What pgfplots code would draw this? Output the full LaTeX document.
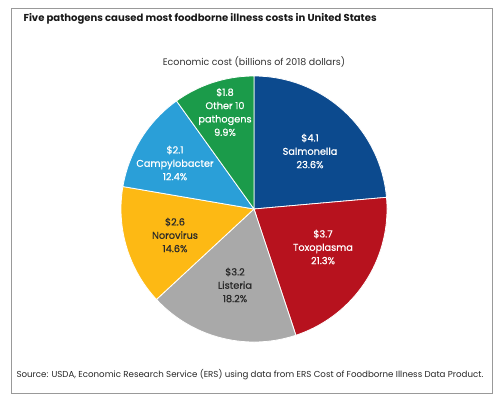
\documentclass[border=0pt]{standalone}
\usepackage{pgfplots}
\pgfplotsset{compat=1.18}
\usepgfplotslibrary{polar}
\usepackage{fontspec}
\setmainfont{Poppins}
\newfontfamily\labfont{Poppins}[FakeBold=0.6]
\definecolor{cSal}{HTML}{0C4A8E}
\definecolor{cTox}{HTML}{B7121E}
\definecolor{cLis}{HTML}{A9A9A9}
\definecolor{cNor}{HTML}{FDB914}
\definecolor{cCam}{HTML}{2A9FD8}
\definecolor{cOth}{HTML}{1B9B4A}
\definecolor{dark}{HTML}{2A2A2A}
\begin{document}
\begin{tikzpicture}[x=1bp,y=1bp]
\useasboundingbox (0,0) rectangle (500,399);
\draw[color=black!40, line width=0.9bp] (11,6) rectangle (492,391);
\node[anchor=west, font=\bfseries\fontsize{10.1}{12}\selectfont, text=black!90] at (20,380) {Five pathogens caused most foodborne illness costs in United States};
\node[font=\fontsize{9.5}{12}\selectfont, text=black!80] at (254,337) {Economic cost (billions of 2018 dollars)};
\node[anchor=west, font=\fontsize{8.7}{10}\selectfont, text=black!85] at (13,24) {Source: USDA, Economic Research Service (ERS) using data from ERS Cost of Foodborne Illness Data Product.};
% Shares (percent): Salmonella 23.6, Toxoplasma 21.3, Listeria 18.2, Norovirus 14.6, Campylobacter 12.4, Other 9.9
\begin{polaraxis}[at={(254bp,190bp)}, anchor=origin, hide axis, scale only axis,
  width=266bp, height=266bp, ymin=0, ymax=1, xmin=0, xmax=360, clip=false]
\addplot[fill=cSal, draw=white, line width=0.8bp, domain=5.04:90, samples=80] {1} -- (axis cs:0,0) -- cycle;
\addplot[fill=cTox, draw=white, line width=0.8bp, domain=-71.64:5.04, samples=80] {1} -- (axis cs:0,0) -- cycle;
\addplot[fill=cLis, draw=white, line width=0.8bp, domain=-137.16:-71.64, samples=80] {1} -- (axis cs:0,0) -- cycle;
\addplot[fill=cNor, draw=white, line width=0.8bp, domain=-189.72:-137.16, samples=80] {1} -- (axis cs:0,0) -- cycle;
\addplot[fill=cCam, draw=white, line width=0.8bp, domain=-234.36:-189.72, samples=80] {1} -- (axis cs:0,0) -- cycle;
\addplot[fill=cOth, draw=white, line width=0.8bp, domain=-270:-234.36, samples=80] {1} -- (axis cs:0,0) -- cycle;
\end{polaraxis}
\tikzset{lab/.style={align=center, font=\labfont\fontsize{9.8}{13.4}\selectfont}}
\node[lab, text=white] at (225,287) {\$1.8\\Other 10\\pathogens\\9.9\%};
\node[lab, text=white] at (310,248) {\$4.1\\Salmonella\\23.6\%};
\node[lab, text=white] at (175,236) {\$2.1\\Campylobacter\\12.4\%};
\node[lab, text=dark] at (175,164) {\$2.6\\Norovirus\\14.6\%};
\node[lab, text=dark] at (235,114) {\$3.2\\Listeria\\18.2\%};
\node[lab, text=white] at (323,152) {\$3.7\\Toxoplasma\\21.3\%};
\end{tikzpicture}
\end{document}
